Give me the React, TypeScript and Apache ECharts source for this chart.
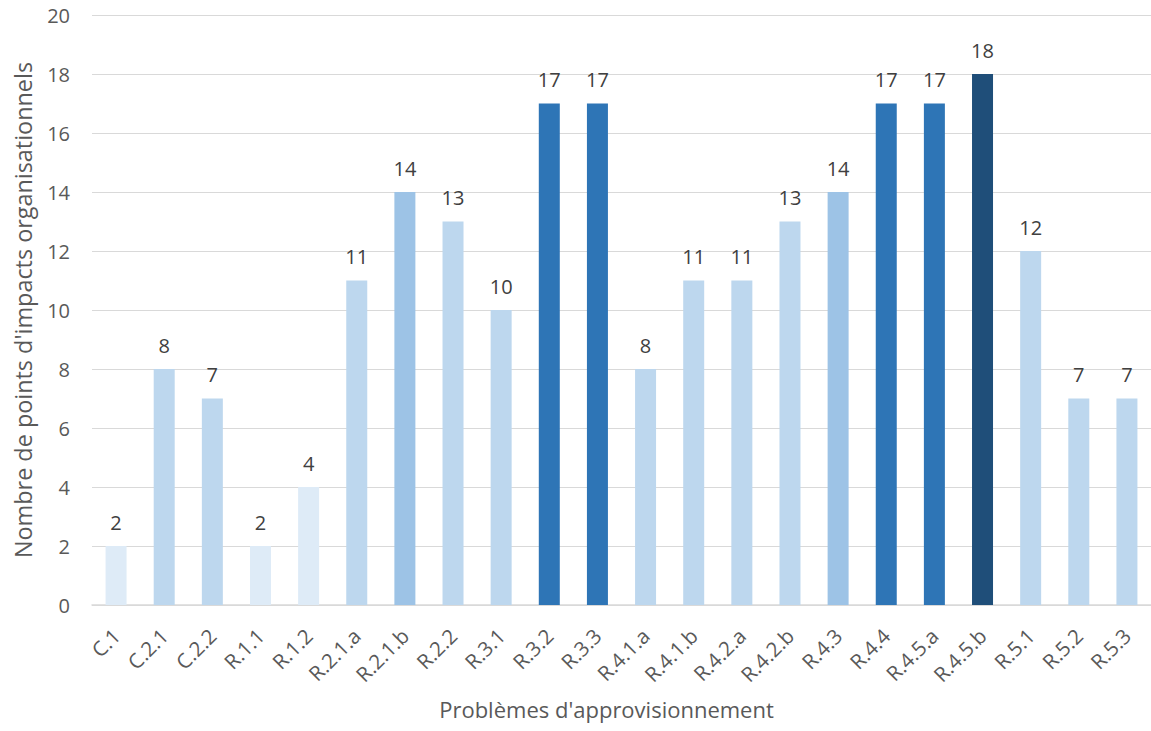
import React, { useEffect, useRef } from "react";
import * as echarts from "echarts";

const categories = ["C.1","C.2.1","C.2.2","R.1.1","R.1.2","R.2.1.a","R.2.1.b","R.2.2","R.3.1","R.3.2","R.3.3","R.4.1.a","R.4.1.b","R.4.2.a","R.4.2.b","R.4.3","R.4.4","R.4.5.a","R.4.5.b","R.5.1","R.5.2","R.5.3"];
const values = [2,8,7,2,4,11,14,13,10,17,17,8,11,11,13,14,17,17,18,12,7,7];
const barColors = ["#DEEBF7","#BDD7EE","#BDD7EE","#DEEBF7","#DEEBF7","#BDD7EE","#9DC3E6","#BDD7EE","#BDD7EE","#2E75B6","#2E75B6","#BDD7EE","#BDD7EE","#BDD7EE","#BDD7EE","#9DC3E6","#2E75B6","#2E75B6","#1F4E79","#BDD7EE","#BDD7EE","#BDD7EE"];
const yTicks = { min: 0, max: 20, interval: 2 };
const xTitle = "Problèmes d'approvisionnement";
const yTitle = "Nombre de points d'impacts organisationnels";

const FONT = "'Open Sans', sans-serif";

export default function App() {
  const ref = useRef<HTMLDivElement>(null);
  useEffect(() => {
    document.body.style.margin = "0";
    const chart = echarts.init(ref.current!, null, { renderer: "svg" });
    chart.setOption({
      animation: false,
      backgroundColor: "#ffffff",
      textStyle: { fontFamily: FONT },
      grid: { left: 92, right: 0, top: 15, bottom: 126, containLabel: false },
      xAxis: {
        type: "category",
        data: categories,
        name: xTitle,
        nameLocation: "middle",
        nameGap: 93,
        nameTextStyle: { fontSize: 22, color: "#595959", fontFamily: FONT, padding: [0, 30, 0, 0] },
        axisLine: { lineStyle: { color: "#D9D9D9", width: 1.5 } },
        axisTick: { show: false },
        axisLabel: { rotate: 45, interval: 0, margin: 27, fontSize: 20.5, color: "#595959", fontFamily: FONT },
      },
      yAxis: {
        type: "value",
        min: yTicks.min,
        max: yTicks.max,
        interval: yTicks.interval,
        name: yTitle,
        nameLocation: "middle",
        nameGap: 58,
        nameTextStyle: { fontSize: 23.4, color: "#595959", fontFamily: FONT },
        axisLine: { show: false },
        axisTick: { show: false },
        axisLabel: { fontSize: 20, color: "#595959", margin: 22, fontFamily: FONT },
        splitLine: { lineStyle: { color: "#D9D9D9", width: 1.2 } },
      },
      series: [
        {
          type: "bar",
          data: values.map((v, i) => ({ value: v, itemStyle: { color: barColors[i] } })),
          barWidth: 21,
          label: { show: true, position: "top", distance: 14, fontSize: 20, color: "#404040", fontFamily: FONT },
        },
      ],
    });
    return () => chart.dispose();
  }, []);
  return <div ref={ref} style={{ width: 1151, height: 731 }} />;
}
